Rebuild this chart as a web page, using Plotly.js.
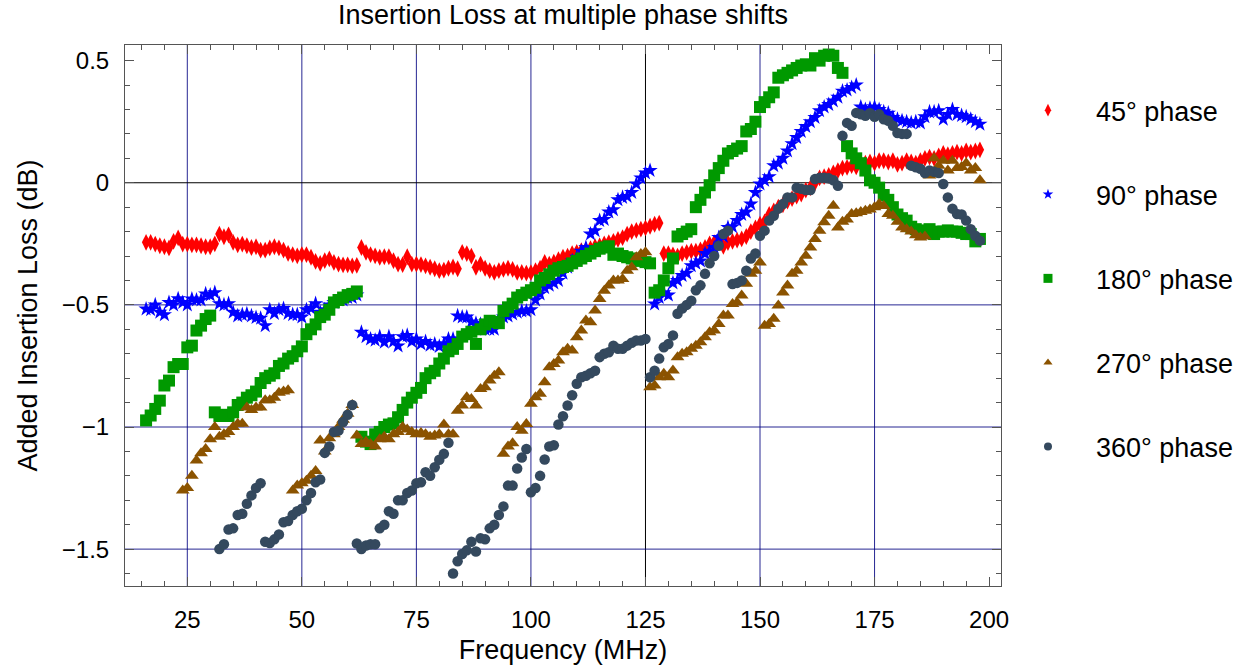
<!DOCTYPE html>
<html>
<head>
<meta charset="utf-8">
<script src="https://cdn.plot.ly/plotly-3.0.1.min.js"></script>
<style>html,body{margin:0;padding:0;background:#fff;}#chart{width:1249px;height:665px;}</style>
</head>
<body>
<div id="chart"></div>
<script>
// Frequency points (MHz)
const freq = [
16,17,18,19,20,21,22,23,24,25,26,27,28,29,30,31,32,33,34,35,36,37,38,39,40,41,42,43,44,45,
46,47,48,49,50,51,52,53,54,55,56,57,58,59,60,61,62,63,64,65,66,67,68,69,70,71,72,73,74,75,
76,77,78,79,80,81,82,83,84,85,86,87,88,89,90,91,92,93,94,95,96,97,98,99,100,101,102,103,104,105,
106,107,108,109,110,111,112,113,114,115,116,117,118,119,120,121,122,123,124,125,126,127,128,129,130,131,132,133,134,135,
136,137,138,139,140,141,142,143,144,145,146,147,148,149,150,151,152,153,154,155,156,157,158,159,160,161,162,163,164,165,
166,167,168,169,170,171,172,173,174,175,176,177,178,179,180,181,182,183,184,185,186,187,188,189,190,191,192,193,194,195,
196,197,198];

const phase45 = [
-0.244,-0.244,-0.251,-0.258,-0.262,-0.267,-0.240,-0.226,-0.251,-0.251,
-0.254,-0.254,-0.258,-0.262,-0.262,-0.250,-0.210,-0.221,-0.213,-0.244,
-0.254,-0.251,-0.258,-0.265,-0.262,-0.276,-0.276,-0.267,-0.262,-0.267,
-0.276,-0.289,-0.294,-0.299,-0.294,-0.294,-0.305,-0.322,-0.330,-0.319,
-0.312,-0.326,-0.333,-0.336,-0.336,-0.340,-0.338,-0.265,-0.285,-0.294,
-0.299,-0.305,-0.303,-0.303,-0.319,-0.333,-0.335,-0.303,-0.333,-0.333,
-0.335,-0.340,-0.346,-0.352,-0.360,-0.358,-0.350,-0.345,-0.352,-0.285,
-0.290,-0.300,-0.346,-0.333,-0.350,-0.360,-0.367,-0.360,-0.355,-0.350,
-0.355,-0.367,-0.367,-0.370,-0.368,-0.360,-0.350,-0.326,-0.333,-0.325,
-0.315,-0.305,-0.300,-0.290,-0.285,-0.278,-0.275,-0.270,-0.262,-0.258,
-0.250,-0.245,-0.240,-0.232,-0.225,-0.210,-0.200,-0.195,-0.190,-0.185,
-0.178,-0.170,-0.165,-0.290,-0.290,-0.295,-0.300,-0.290,-0.285,-0.280,
-0.280,-0.275,-0.265,-0.250,-0.245,-0.238,-0.260,-0.245,-0.240,-0.235,
-0.230,-0.220,-0.200,-0.185,-0.170,-0.160,-0.130,-0.115,-0.100,-0.090,
-0.075,-0.065,-0.055,-0.046,-0.030,-0.020,0.000,0.020,0.025,0.030,
0.040,0.050,0.060,0.063,0.070,0.065,0.078,0.080,0.085,0.080,
0.090,0.090,0.085,0.090,0.075,0.080,0.090,0.085,0.080,0.090,
0.100,0.105,0.100,0.110,0.120,0.115,0.120,0.125,0.120,0.130,
0.125,0.130,0.135];

const phase90 = [
-0.517,-0.520,-0.500,-0.530,-0.540,-0.490,-0.500,-0.475,-0.490,-0.500,
-0.476,-0.480,-0.480,-0.455,-0.460,-0.450,-0.495,-0.500,-0.495,-0.530,
-0.545,-0.540,-0.537,-0.545,-0.552,-0.555,-0.585,-0.520,-0.535,-0.520,
-0.515,-0.535,-0.540,-0.540,-0.550,-0.520,-0.515,-0.495,-0.530,-0.520,
-0.500,-0.490,-0.480,-0.480,-0.470,-0.470,-0.460,-0.612,-0.630,-0.640,
-0.645,-0.630,-0.653,-0.630,-0.650,-0.668,-0.630,-0.625,-0.650,-0.640,
-0.660,-0.650,-0.665,-0.660,-0.670,-0.660,-0.640,-0.640,-0.545,-0.550,
-0.550,-0.570,-0.575,-0.580,-0.600,-0.600,-0.600,-0.560,-0.550,-0.545,
-0.537,-0.530,-0.525,-0.525,-0.520,-0.480,-0.455,-0.430,-0.420,-0.410,
-0.400,-0.370,-0.346,-0.320,-0.305,-0.280,-0.265,-0.210,-0.196,-0.155,
-0.150,-0.120,-0.110,-0.070,-0.060,-0.056,-0.040,-0.005,0.020,0.040,
0.050,-0.496,-0.470,-0.450,-0.460,-0.410,-0.400,-0.380,-0.370,-0.340,
-0.330,-0.320,-0.290,-0.280,-0.265,-0.224,-0.220,-0.183,-0.180,-0.155,
-0.130,-0.120,-0.087,-0.040,-0.005,0.010,0.025,0.070,0.080,0.100,
0.130,0.160,0.185,0.210,0.230,0.250,0.267,0.295,0.310,0.320,
0.335,0.350,0.375,0.380,0.390,0.400,0.310,0.300,0.305,0.310,
0.300,0.290,0.285,0.267,0.260,0.254,0.250,0.245,0.250,0.245,
0.270,0.290,0.290,0.295,0.260,0.280,0.300,0.280,0.275,0.270,
0.260,0.250,0.240];

const phase180 = [
-0.973,-0.953,-0.926,-0.892,-0.830,-0.810,-0.755,-0.742,-0.742,-0.674,
-0.667,-0.605,-0.585,-0.558,-0.544,-0.940,-0.955,-0.950,-0.955,-0.940,
-0.910,-0.900,-0.880,-0.870,-0.855,-0.820,-0.800,-0.790,-0.780,-0.750,
-0.740,-0.720,-0.710,-0.690,-0.670,-0.620,-0.600,-0.580,-0.550,-0.540,
-0.520,-0.490,-0.480,-0.470,-0.460,-0.455,-0.445,-1.040,-1.060,-1.070,
-1.030,-1.020,-1.000,-0.990,-0.985,-0.960,-0.930,-0.900,-0.880,-0.860,
-0.840,-0.800,-0.780,-0.770,-0.740,-0.720,-0.690,-0.680,-0.660,-0.630,
-0.620,-0.610,-0.660,-0.600,-0.580,-0.565,-0.570,-0.575,-0.525,-0.510,
-0.495,-0.470,-0.460,-0.450,-0.440,-0.430,-0.400,-0.390,-0.375,-0.360,
-0.350,-0.345,-0.340,-0.330,-0.320,-0.310,-0.300,-0.290,-0.280,-0.270,
-0.265,-0.260,-0.295,-0.290,-0.300,-0.305,-0.310,-0.315,-0.320,-0.325,
-0.330,-0.450,-0.440,-0.400,-0.350,-0.310,-0.220,-0.210,-0.200,-0.190,
-0.100,-0.070,-0.040,-0.010,0.030,0.060,0.090,0.120,0.130,0.140,
0.150,0.210,0.220,0.250,0.310,0.330,0.350,0.370,0.430,0.440,
0.450,0.460,0.470,0.480,0.485,0.480,0.510,0.500,0.520,0.525,
0.520,0.470,0.450,0.150,0.120,0.100,0.080,0.050,0.010,0.000,
-0.020,-0.050,-0.070,-0.100,-0.130,-0.145,-0.155,-0.180,-0.190,-0.195,
-0.200,-0.190,-0.210,-0.200,-0.200,-0.195,-0.200,-0.200,-0.205,-0.210,
-0.210,-0.240,-0.230];

const phase270 = [
null,null,null,null,null,null,null,null,
-1.260,-1.250,-1.200,-1.137,-1.107,-1.090,-1.050,-1.000,-1.040,-1.030,
-1.020,-1.000,-0.987,-0.987,-0.920,-0.930,-0.920,-0.920,-0.890,-0.890,
-0.880,-0.860,-0.855,-0.850,
-1.260,-1.240,-1.230,-1.220,-1.200,-1.180,-1.055,-1.100,-1.046,-1.030,
-1.000,-0.970,-0.946,-0.910,
-1.035,-1.070,-1.060,-1.070,-1.080,-1.050,-1.040,-1.050,-1.030,-1.020,
-1.000,-1.010,-1.020,-1.030,-1.025,-1.030,-1.040,-1.035,-1.030,-0.990,-1.030,-1.030,
-0.933,-0.912,-0.878,-0.885,-0.912,-0.844,-0.837,-0.810,-0.790,-0.776,
-1.110,-1.080,-1.067,-1.000,-1.015,-0.988,
-0.905,-0.878,-0.864,-0.817,-0.755,-0.742,-0.728,-0.694,-0.680,-0.687,
-0.633,-0.605,-0.564,-0.571,-0.523,-0.476,-0.442,-0.421,-0.400,-0.400,
-0.394,-0.360,-0.346,-0.305,-0.292,-0.285,
-0.837,-0.830,-0.796,-0.782,-0.796,-0.769,-0.714,-0.700,-0.694,-0.680,
-0.667,-0.653,-0.633,-0.612,-0.605,-0.578,-0.544,-0.544,-0.496,-0.490,
-0.462,-0.414,-0.373,-0.360,-0.326,
-0.585,-0.578,-0.557,-0.503,-0.449,-0.421,-0.373,-0.360,-0.326,-0.299,
-0.265,-0.230,-0.196,-0.162,-0.135,-0.094,
-0.183,-0.160,-0.150,-0.128,-0.125,-0.120,-0.115,-0.110,-0.100,-0.087,
-0.095,-0.128,-0.135,-0.160,-0.183,-0.190,-0.200,-0.215,-0.224,-0.220,
0.030,0.100,0.070,0.090,0.050,0.090,0.060,0.065,0.080,0.050,0.060,0.010];

const phase360 = [
null,null,null,null,null,null,null,null,null,null,null,null,null,null,null,null,
-1.500,-1.480,-1.420,-1.415,-1.360,-1.355,-1.314,-1.280,-1.250,-1.230,
-1.470,-1.475,-1.460,-1.440,-1.390,-1.385,-1.360,-1.345,-1.335,-1.300,
-1.270,-1.226,-1.215,-1.106,-1.080,-1.020,-1.015,-0.980,-0.950,-0.910,
-1.477,-1.500,-1.485,-1.480,-1.480,-1.415,-1.400,-1.345,-1.355,-1.300,
-1.300,-1.270,-1.260,-1.230,-1.226,-1.185,-1.200,-1.165,-1.134,-1.110,-1.065,
-1.600,-1.550,-1.520,-1.505,-1.470,-1.510,-1.456,-1.460,-1.415,-1.400,
-1.360,-1.325,-1.240,-1.240,-1.170,-1.125,-1.090,
-1.267,-1.250,-1.200,-1.133,-1.080,-1.075,-0.990,-0.956,-0.912,-0.870,
-0.823,-0.796,-0.790,-0.780,-0.770,-0.714,-0.700,-0.694,-0.667,-0.680,
-0.680,-0.667,-0.655,-0.646,-0.646,-0.640,
-0.796,-0.770,-0.720,-0.674,-0.660,-0.625,-0.536,-0.515,-0.500,-0.483,
-0.440,-0.420,-0.373,-0.330,-0.300,-0.258,-0.210,-0.196,
-0.415,-0.410,-0.400,-0.360,-0.310,-0.290,-0.217,-0.196,-0.155,-0.135,
-0.106,-0.087,-0.060,-0.060,-0.020,-0.025,-0.030,-0.030,0.015,0.020,
0.020,0.018,0.010,-0.012,
0.192,0.245,0.233,0.286,0.280,0.274,0.285,0.270,0.280,0.260,
0.254,0.233,0.204,0.200,0.200,
0.070,0.063,0.057,0.040,0.050,0.045,0.040,-0.005,-0.060,-0.106,
-0.128,-0.130,-0.155,-0.190,-0.217,-0.237];

const seriesNames = ['45° phase','90° phase','180° phase','270° phase','360° phase'];
const seriesData = [phase45, phase90, phase180, phase270, phase360];
const seriesColors = ['#ff0000','#0000ff','#009900','#8b5300','#34495e'];
const seriesSymbols = ['diamond-tall','star','square','triangle-up','circle'];
const seriesSizes = [12, 11.5, 12, 12, 10.5];
const legendSizes = [9, 8, 9, 8, 8];

const gridX = [25, 50, 75, 100, 150, 175];
const gridXDark = [125];
const gridY = [-0.5, -1, -1.5];
const gridYDark = [0];

// data traces (not in legend)
const traces = seriesData.map((ys, i) => ({
  type: 'scatter', mode: 'markers', x: freq, y: ys, name: seriesNames[i],
  showlegend: false,
  marker: {color: seriesColors[i], symbol: seriesSymbols[i], size: seriesSizes[i], line: {width: 0}}
}));
// legend entries with small key markers, as in the reference
seriesNames.forEach((nm, i) => traces.push({
  type: 'scatter', mode: 'markers', x: [null], y: [null], name: nm,
  legendgroup: 'g' + i, showlegend: true,
  marker: {color: seriesColors[i], symbol: seriesSymbols[i], size: legendSizes[i], line: {width: 0}}
}));

const shapes = [];
gridX.forEach(v => shapes.push({type:'line', xref:'x', yref:'paper', x0:v, x1:v, y0:0, y1:1, layer:'below', line:{color:'rgba(0,0,128,0.85)', width:1}}));
gridXDark.forEach(v => shapes.push({type:'line', xref:'x', yref:'paper', x0:v, x1:v, y0:0, y1:1, layer:'below', line:{color:'#000000', width:1}}));
gridY.forEach(v => shapes.push({type:'line', xref:'paper', yref:'y', x0:0, x1:1, y0:v, y1:v, layer:'below', line:{color:'rgba(0,0,128,0.85)', width:1}}));
gridYDark.forEach(v => shapes.push({type:'line', xref:'paper', yref:'y', x0:0, x1:1, y0:v, y1:v, layer:'below', line:{color:'#000000', width:1}}));

const axisCommon = {
  showgrid: false, zeroline: false, showline: true, mirror: 'ticks',
  linecolor: '#555', linewidth: 1, ticks: 'inside', ticklen: 9, tickwidth: 1, tickcolor: '#555',
  tickfont: {size: 24, color: '#000'}
};

const layout = {
  width: 1249, height: 665,
  margin: {l: 125, r: 247, t: 45, b: 79},
  paper_bgcolor: '#fff', plot_bgcolor: '#fff',
  font: {family: 'Liberation Sans, Arial, sans-serif', color: '#000', size: 24},
  title: {text: 'Insertion Loss at multiple phase shifts', font: {size: 27}, xref: 'paper', x: 0.5, yref: 'container', y: 0.978, yanchor: 'middle'},
  xaxis: Object.assign({}, axisCommon, {
    range: [11.4, 202.6], tick0: 0, dtick: 25,
    minor: {tick0: 0, dtick: 5, ticks: 'inside', ticklen: 5, tickcolor: '#555', showgrid: false},
    ticklabelstandoff: 12,
    title: {text: 'Frequency (MHz)', font: {size: 27}, standoff: 8}
  }),
  yaxis: Object.assign({}, axisCommon, {
    range: [-1.651, 0.564], tick0: 0, dtick: 0.5,
    minor: {tick0: 0, dtick: 0.1, ticks: 'inside', ticklen: 5, tickcolor: '#555', showgrid: false},
    ticklabelstandoff: 10,
    title: {text: 'Added Insertion Loss (dB)', font: {size: 27}, standoff: 16}
  }),
  showlegend: true,
  legend: {x: 0.9977, xanchor: 'left', y: 0.924, yanchor: 'top', font: {size: 27}, tracegroupgap: 46, itemwidth: 86, bgcolor: 'rgba(0,0,0,0)'},
  shapes: shapes
};

Plotly.newPlot('chart', traces, layout, {displayModeBar: false, staticPlot: true});
</script>
</body>
</html>
